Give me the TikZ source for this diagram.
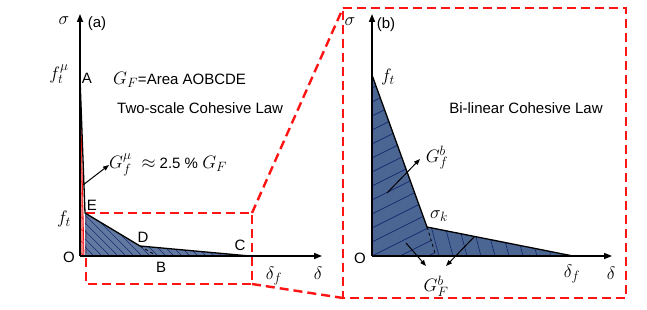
\RequirePackage{fix-cm}
\documentclass[tikz,border=0pt]{standalone}
\usepackage{fontspec}
\setmainfont{Liberation Sans}
\usetikzlibrary{arrows.meta}
\DeclareMathSizes{18}{18}{13.5}{10}
\newcommand\mth[1]{{\fontsize{18}{20}\selectfont$#1$}}
\definecolor{fillblue}{RGB}{76,102,148}
\definecolor{hatchblue}{RGB}{25,45,110}
\definecolor{zred}{RGB}{255,20,20}
\definecolor{lred}{RGB}{245,130,130}
\begin{document}
\begin{tikzpicture}[x=1pt,y=-1pt,
  lbl/.style={inner sep=0pt, font=\fontsize{15}{18}\selectfont},
  axis/.style={line width=1.6pt, -{Triangle[length=8pt,width=6pt]}},
  curve/.style={line width=1.3pt},
  zoomline/.style={zred, line width=2.4pt, dash pattern=on 9pt off 5pt},
  hatch/.style={hatchblue, line width=0.7pt},
  rhatch/.style={zred, line width=0.6pt},
  pointer/.style={line width=1pt, -{Triangle[length=6pt,width=4.5pt]}}]
\useasboundingbox (0,0) rectangle (647,310);
% ---------- coordinates (a)
\coordinate (O1) at (80,256);
\coordinate (A) at (80,78);
\coordinate (Ared) at (84,256);
\coordinate (E) at (85,213);
\coordinate (E0) at (85,256);
\coordinate (D) at (140,246);
\coordinate (B) at (157,256);
\coordinate (C) at (250,256);
\coordinate (Y1) at (80,14);
\coordinate (X1) at (322,256);
% ---------- zoom boxes
\coordinate (zb1) at (86,213);
\coordinate (zb2) at (252,213);
\coordinate (zb3) at (252,284);
\coordinate (zb4) at (86,284);
\coordinate (bb1) at (343,8);
\coordinate (bb2) at (626,8);
\coordinate (bb3) at (626,298);
\coordinate (bb4) at (343,298);
\draw[zoomline] (zb1) -- (zb2) -- (zb3) -- (zb4) -- cycle;
\draw[zoomline] (zb2) -- (bb1);
\draw[zoomline] (zb3) -- (bb4);
\draw[zoomline] (bb1) -- (bb2) -- (bb3) -- (bb4) -- cycle;
% ---------- (a) areas
\fill[lred] (O1) -- (A) -- (Ared) -- cycle;
\begin{scope}
  \clip (O1) -- (A) -- (Ared) -- cycle;
  \foreach \y in {80,92,...,260} \draw[rhatch] (76,\y) -- (90,\y+14);
\end{scope}
\draw[zred, line width=0.8pt] (A) -- (Ared);
\fill[fillblue, fill opacity=0.88] (E) -- (D) -- (C) -- (E0) -- cycle;
\begin{scope}
  \clip (E) -- (D) -- (C) -- (E0) -- cycle;
  \foreach \x in {0,8,...,240} \draw[hatch] (\x+20,190) -- (\x+90,260);
\end{scope}
\draw[dashed, line width=0.8pt] (D) -- (B);
\draw[curve] (A) -- (E) -- (D) -- (C);
\draw[axis] (O1) -- (Y1);
\draw[axis] (O1) -- (X1);
% ---------- (a) labels
\node[lbl] (sig1) at (64,21) {\mth{\sigma}};
\node[lbl] (la) at (97,24) {(a)};
\node[lbl] (ftmu) at (59,74) {\mth{f_t^{\mu}}};
\node[lbl] (lA) at (87,78) {A};
\node[lbl, anchor=west] (GF) at (113,80) {\mth{G_F}=Area AOBCDE};
\node[lbl, anchor=west] (tsc) at (117,108) {Two-scale Cohesive Law};
\node[lbl, anchor=west] (Gfmu) at (109,165) {\mth{G_f^{\mu}\ \approx} 2.5 \% \mth{G_F}};
\node[lbl] (ft1) at (64,219) {\mth{f_t}};
\node[lbl] (lE) at (92,205) {E};
\node[lbl] (lO1) at (69,257) {O};
\node[lbl] (lD) at (143,237) {D};
\node[lbl] (lB) at (161,267) {B};
\node[lbl] (lC) at (240,245) {C};
\node[lbl] (df1) at (274,276) {\mth{\delta_f}};
\node[lbl] (d1) at (318,273) {\mth{\delta}};
\coordinate (pm) at (83,185);
\draw[pointer] (pm) -- (Gfmu.west);
% ---------- coordinates (b)
\coordinate (O2) at (372,256);
\coordinate (ft2) at (372,75);
\coordinate (K) at (427,227);
\coordinate (K0) at (436,256);
\coordinate (DF) at (573,256);
\coordinate (Y2) at (372,14);
\coordinate (X2) at (612,256);
\fill[fillblue] (O2) -- (ft2) -- (K) -- (DF) -- cycle;
\begin{scope}
  \clip (O2) -- (ft2) -- (K) -- (K0) -- cycle;
  \foreach \y in {60,74,...,300} \draw[hatch] (360,\y+6) -- (460,\y-44);
\end{scope}
\begin{scope}
  \clip (K) -- (DF) -- (K0) -- cycle;
  \foreach \x in {430,444,...,580} \draw[hatch] (\x,222) -- (\x+10,260);
\end{scope}
\draw[dashed, line width=0.8pt] (K) -- (K0);
\draw[curve] (ft2) -- (K) -- (DF);
\draw[axis] (O2) -- (Y2);
\draw[axis] (O2) -- (X2);
% ---------- (b) labels
\node[lbl] (sig2) at (350,22) {\mth{\sigma}};
\node[lbl] (lb) at (386,25) {(b)};
\node[lbl] (ft2l) at (388,77) {\mth{f_t}};
\node[lbl] (bil) at (526,108) {Bi-linear Cohesive Law};
\node[lbl] (Gfb) at (437,158) {\mth{G_f^b}};
\node[lbl] (sk) at (439,216) {\mth{\sigma_k}};
\node[lbl] (lO2) at (360,258) {O};
\node[lbl] (df2) at (572,274) {\mth{\delta_f}};
\node[lbl] (d2) at (611,273) {\mth{\delta}};
\node[lbl] (GFb) at (436,286) {\mth{G_F^b}};
\coordinate (p1) at (387,193);
\coordinate (p1e) at (420,159);
\coordinate (p2) at (406,243);
\coordinate (p2e) at (426,266);
\coordinate (p3) at (474,237);
\coordinate (p3e) at (446,266);
\draw[pointer] (p1) -- (p1e);
\draw[pointer] (p2) -- (p2e);
\draw[pointer] (p3) -- (p3e);
\end{tikzpicture}
\end{document}
